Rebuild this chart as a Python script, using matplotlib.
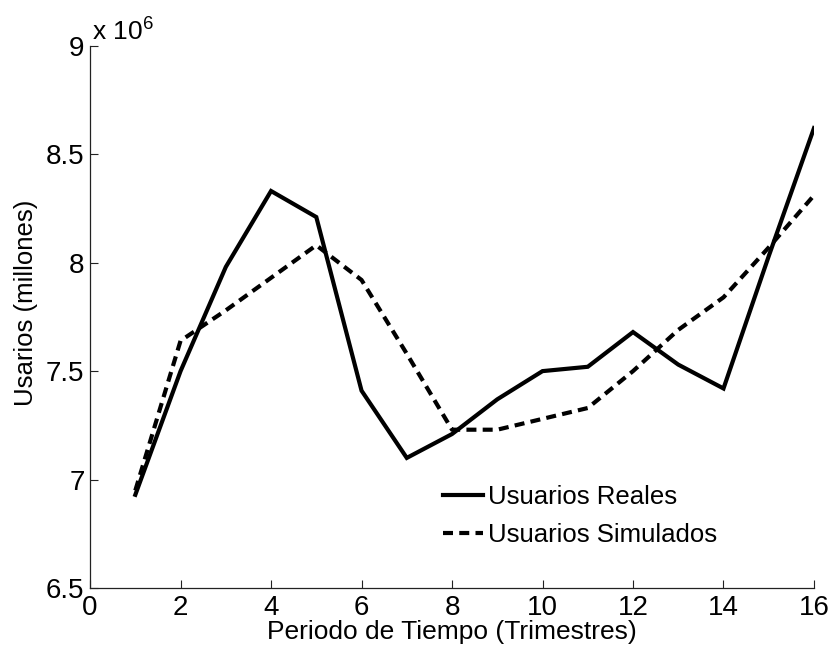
import matplotlib
matplotlib.use("Agg")
import matplotlib.pyplot as plt
from matplotlib.ticker import FuncFormatter

plt.rcParams['font.family'] = ['Liberation Sans', 'DejaVu Sans']
plt.rcParams['mathtext.fontset'] = 'custom'
plt.rcParams['mathtext.rm'] = 'Liberation Sans'
plt.rcParams['mathtext.it'] = 'Liberation Sans'

# Quarterly periods and user counts
periodos = [1, 2, 3, 4, 5, 6, 7, 8, 9, 10, 11, 12, 13, 14, 15, 16]
usuarios_reales = [6.93e6, 7.50e6, 7.98e6, 8.33e6, 8.21e6, 7.41e6, 7.10e6, 7.21e6,
                   7.37e6, 7.50e6, 7.52e6, 7.68e6, 7.53e6, 7.42e6, 8.03e6, 8.62e6]
usuarios_simulados = [6.95e6, 7.64e6, 7.78e6, 7.93e6, 8.08e6, 7.92e6, 7.58e6, 7.23e6,
                      7.23e6, 7.28e6, 7.33e6, 7.50e6, 7.69e6, 7.84e6, 8.07e6, 8.31e6]

x_ticks = [0, 2, 4, 6, 8, 10, 12, 14, 16]
y_ticks = [6.5e6, 7e6, 7.5e6, 8e6, 8.5e6, 9e6]

fig = plt.figure(figsize=(8.34, 6.52), dpi=100)
ax = fig.add_axes([0.108, 0.098, 0.868, 0.832])

ax.plot(periodos, usuarios_reales, color='black', lw=3.0, solid_joinstyle='miter',
        label='Usuarios Reales')
ax.plot(periodos, usuarios_simulados, color='black', lw=3.0, dashes=(2.4, 1.5),
        label='Usuarios Simulados')

ax.set_xlim(0, 16)
ax.set_ylim(6.5e6, 9e6)
ax.set_xticks(x_ticks)
ax.set_yticks(y_ticks)
ax.yaxis.set_major_formatter(FuncFormatter(lambda v, p: f"{v / 1e6:g}"))

for side in ('top', 'right'):
    ax.spines[side].set_visible(False)
for side in ('left', 'bottom'):
    ax.spines[side].set_linewidth(0.9)
    ax.spines[side].set_color('#222222')

ax.tick_params(direction='in', length=5.5, width=0.8, color='#222222',
               labelsize=20, pad=4)
ax.tick_params(axis='x', pad=5)

ax.set_xlabel('Periodo de Tiempo (Trimestres)', fontsize=19, labelpad=-1)
ax.set_ylabel('Usarios (millones)', fontsize=18.5)
ax.yaxis.set_label_coords(-0.072, 0.525)

ax.text(0.003, 1.0, r'x 10$^{6}$', transform=ax.transAxes, fontsize=19,
        ha='left', va='bottom')

ax.legend(loc='center left', bbox_to_anchor=(443 / 834, 1 - 516 / 652),
          bbox_transform=fig.transFigure, frameon=False,
          fontsize=18.5, handlelength=1.55, handletextpad=0.2, labelspacing=0.52,
          borderpad=0, borderaxespad=0)

fig.savefig('out.png', dpi=100, facecolor='white')
